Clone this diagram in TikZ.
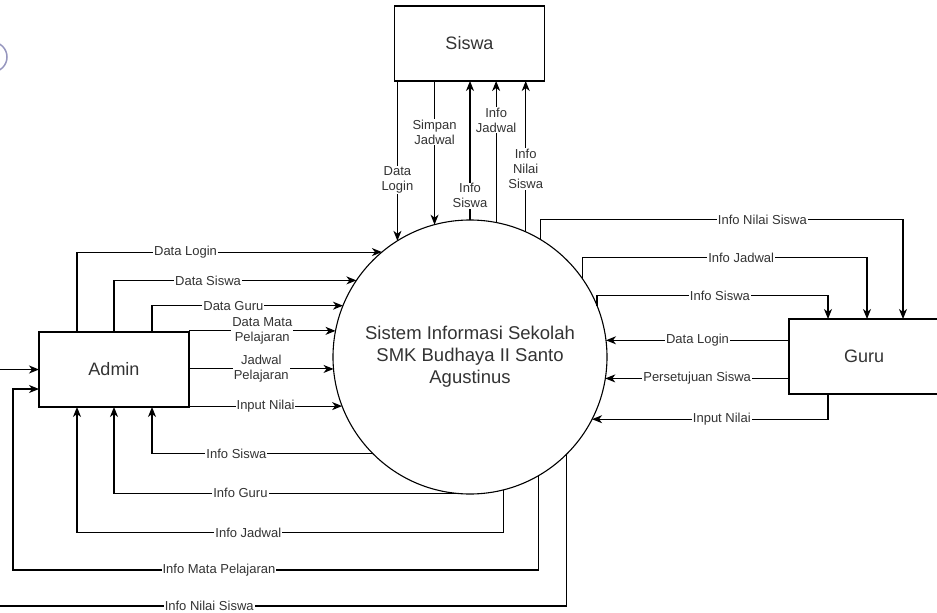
\documentclass[tikz,border=0pt]{standalone}
\usepackage{fontspec}
\setmainfont{Liberation Sans}
\usetikzlibrary{positioning, arrows.meta, shapes}

\begin{document}
\begin{tikzpicture}[
		x=1pt, y=-1pt,
		>={Stealth[length=10pt, width=8pt, inset=3pt]},
		line width=1.1pt,
		box/.style={draw, rectangle, minimum width=150pt, minimum height=75pt, outer sep=0pt, text=black!80, font=\fontsize{18}{22}\selectfont},
		proc/.style={draw, circle, minimum size=274pt, inner sep=0pt, outer sep=0pt, align=center, text=black!80, font=\fontsize{18.5}{22}\selectfont},
		lbl/.style={fill=white, inner sep=1pt, align=center, text=black!80, font=\fontsize{13}{15}\selectfont},
	]

	\useasboundingbox (0,0) rectangle (937,613);
	\draw[color={rgb,255:red,150;green,150;blue,190}, line width=1.5pt] (-8,57) circle (15);

	\node[proc] (sis) at (470,357) {Sistem Informasi Sekolah\\SMK Budhaya II Santo\\Agustinus};
	\node[box] (siswa) at (469.5,43.5) {Siswa};
	\node[box] (admin) at (114,369.5) {Admin};
	\node[box] (guru) at (864,356.5) {Guru};

	\draw[->] (siswa.south -| sis.122.7) -- node[lbl, pos=0.62] {Data\\Login} (sis.122.7);
	\draw[->] (siswa.south -| sis.105.7) -- node[lbl, pos=0.354] {Simpan\\Jadwal} (sis.105.7);
	\draw[->] (sis.90) -- node[lbl, pos=0.174] {Info\\Siswa} (siswa.south -| sis.90);
	\draw[->] (sis.79.1) -- node[lbl, pos=0.724] {Info\\Jadwal} (siswa.south -| sis.79.1);
	\draw[->] (sis.66.3) -- node[lbl, pos=0.416] {Info\\Nilai\\Siswa} (siswa.south -| sis.66.3);

	\draw[->] ([xshift=-37pt]admin.north) |- node[lbl, pos=0.678] {Data Login} (sis.130.6);
	\draw[->] (admin.north) |- node[lbl, pos=0.694] {Data Siswa} (sis.146.3);
	\draw[->] ([xshift=38pt]admin.north) |- node[lbl, pos=0.713] {Data Guru} (sis.158.6);
	\draw[->] (admin.east |- sis.169.9) -- node[lbl] {Data Mata\\Pelajaran} (sis.169.9);
	\draw[->] (admin.east |- sis.185.4) -- node[lbl] {Jadwal\\Pelajaran} (sis.185.4);
	\draw[->] (admin.east |- sis.201.4) -- node[lbl] {Input Nilai} (sis.201.4);

	\draw[->] (sis.225.7) -| node[lbl, pos=0.309] {Info Siswa} ([xshift=38pt]admin.south);
	\draw[->] (sis.264.6) -| node[lbl, pos=0.315] {Info Guru} (admin.south);
	\draw[->] (sis.284.8) -- ++(0,43) -| node[lbl, pos=0.299] {Info Jadwal} ([xshift=-37pt]admin.south);
	\draw[->] (sis.300.7) |- node[lbl, pos=0.804] {Info Mata Pelajaran} (13,570) |- ([yshift=-19.5pt]admin.west);
	\draw[->] (sis.315.7) |- node[lbl, pos=0.81] {Info Nilai Siswa} (-10,606) |- (admin.west);

	\draw[->] (sis.59.3) -- ++(0,-20) -| node[lbl, pos=0.306] {Info Nilai Siswa} ([xshift=39pt]guru.north);
	\draw[->] (sis.35.2) -- ++(0,-21) -| node[lbl, pos=0.279] {Info Jadwal} ([xshift=3pt]guru.north);
	\draw[->] (sis.22) -- ++(0,-10) -| node[lbl, pos=0.266] {Info Siswa} ([xshift=-36pt]guru.north);
	\draw[->] (guru.west |- sis.7.55) -- node[lbl] {Data Login} (sis.7.55);
	\draw[->] (guru.west |- sis.351.6) -- node[lbl] {Persetujuan Siswa} (sis.351.6);
	\draw[->] ([xshift=-36pt]guru.south) |- node[lbl, pos=0.725] {Input Nilai} (sis.333.1);
\end{tikzpicture}
\end{document}
